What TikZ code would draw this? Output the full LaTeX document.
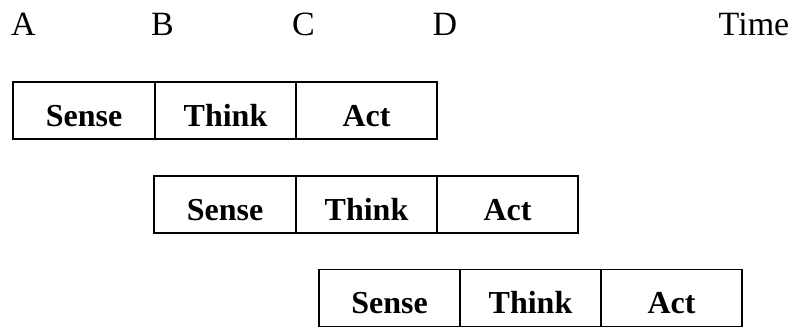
\documentclass[tikz,border=0pt]{standalone}
\usepackage{fontspec}
\setmainfont{Liberation Serif}
\begin{document}
\begin{tikzpicture}[x=1pt,y=-1pt,
  cell/.style={draw, line width=1.9pt, minimum width=141.5pt, minimum height=57pt,
    inner sep=0pt, outer sep=0pt, text height=31pt, text depth=0pt,
    font=\fontsize{32}{38}\selectfont\bfseries},
  tick/.style={anchor=base, inner sep=0pt, font=\fontsize{34}{40}\selectfont}]
\useasboundingbox (0,0) rectangle (795,327);
% time labels
\node[tick] (A) at (23.5,35) {A};
\node[tick] (B) at (162.5,35) {B};
\node[tick] (C) at (303.5,35) {C};
\node[tick] (D) at (445,35) {D};
\node[tick] (time) at (754,35) {Time};
% row 1
\node[cell] (s1) at (84,110.5) {Sense};
\node[cell] (t1) at (225.5,110.5) {Think};
\node[cell] (a1) at (366.5,110.5) {Act};
% row 2
\node[cell] (s2) at (225,204.5) {Sense};
\node[cell] (t2) at (366.5,204.5) {Think};
\node[cell] (a2) at (507.5,204.5) {Act};
% row 3
\node[cell] (s3) at (389.5,298) {Sense};
\node[cell] (t3) at (530.5,298) {Think};
\node[cell] (a3) at (671.5,298) {Act};
\end{tikzpicture}
\end{document}
